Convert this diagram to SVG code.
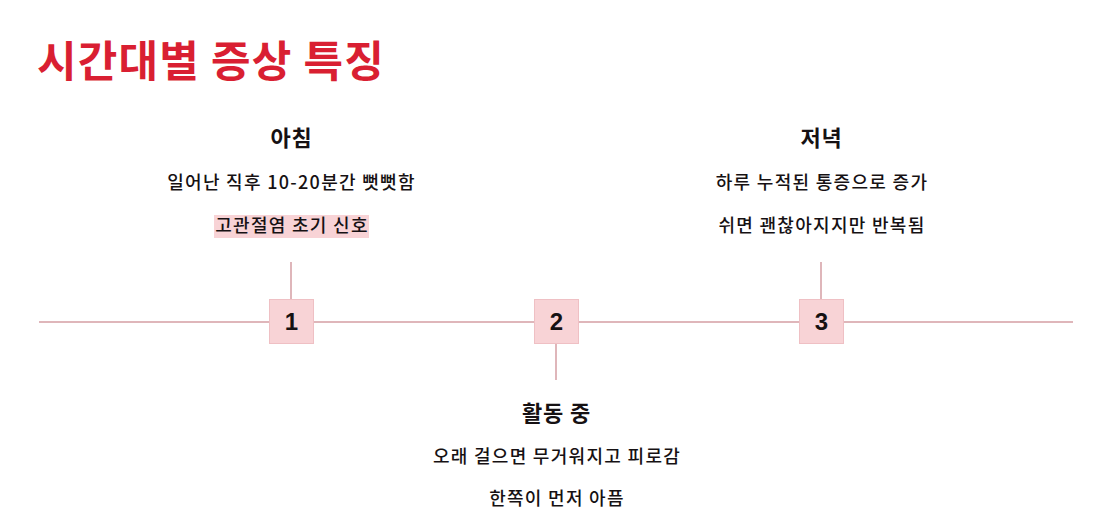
<svg xmlns="http://www.w3.org/2000/svg" width="1120" height="526" viewBox="0 0 1120 526">
<style>
text{font-family:"Noto Sans CJK KR","Noto Sans",sans-serif;fill:#161113}
.title{font-size:43px;font-weight:700;fill:#d91f32;letter-spacing:1.2px}
.head{font-size:22px;font-weight:700;text-anchor:middle;letter-spacing:0.8px}
.body{font-size:18px;font-weight:500;text-anchor:middle;letter-spacing:1.3px}
.num{font-size:24px;font-weight:700;text-anchor:middle;font-family:"Liberation Sans",sans-serif}
.line{stroke:#dfb6ba;stroke-width:2;fill:none}
.box{fill:#f8d3d6;stroke:#efc0c4;stroke-width:1}
</style>
<rect width="1120" height="526" fill="#ffffff"/>
<text class="title" x="37" y="77">시간대별 증상 특징</text>
<g id="connectors">
<line class="line" x1="39" y1="322" x2="1073" y2="322"/>
<line class="line" x1="291" y1="262" x2="291" y2="299"/>
<line class="line" x1="556" y1="343" x2="556" y2="380"/>
<line class="line" x1="821" y1="262" x2="821" y2="299"/>
</g>
<g id="node1">
<rect class="box" x="269.5" y="299.5" width="44" height="44"/>
<text class="num" x="291.5" y="330">1</text>
<text class="head" x="291.5" y="146">아침</text>
<text class="body" x="291.5" y="189">일어난 직후 10-20분간 뻣뻣함</text>
<rect x="214" y="215" width="155" height="23" fill="#f8d3d6"/>
<text class="body" x="292" y="232">고관절염 초기 신호</text>
</g>
<g id="node2">
<rect class="box" x="534.5" y="299.5" width="44" height="44"/>
<text class="num" x="556.5" y="330">2</text>
<text class="head" x="556.5" y="421">활동 중</text>
<text class="body" x="557" y="463">오래 걸으면 무거워지고 피로감</text>
<text class="body" x="557" y="505">한쪽이 먼저 아픔</text>
</g>
<g id="node3">
<rect class="box" x="799.5" y="299.5" width="44" height="44"/>
<text class="num" x="821.5" y="330">3</text>
<text class="head" x="821.5" y="146">저녁</text>
<text class="body" x="822" y="189">하루 누적된 통증으로 증가</text>
<text class="body" x="822" y="232">쉬면 괜찮아지지만 반복됨</text>
</g>
</svg>
